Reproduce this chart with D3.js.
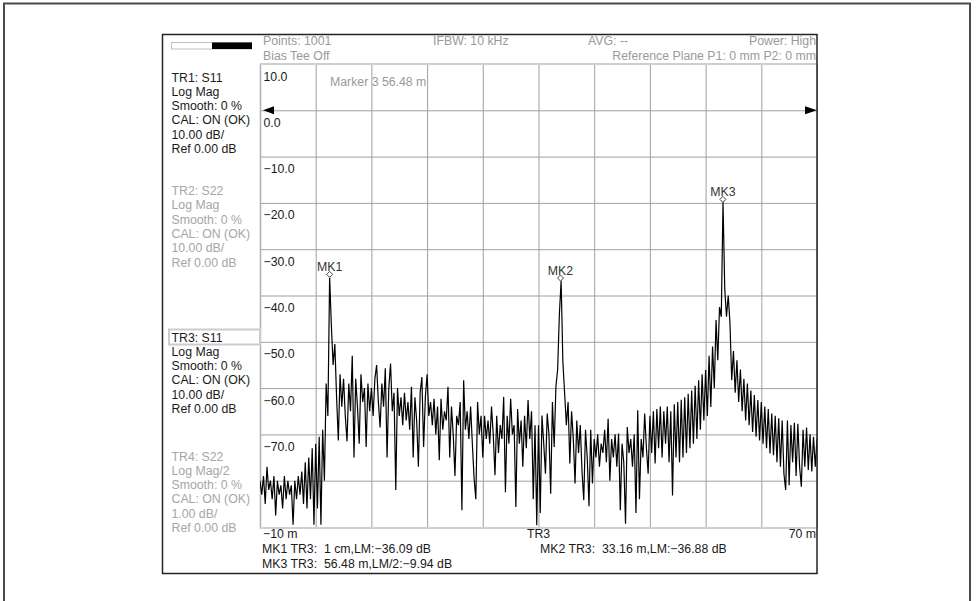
<!DOCTYPE html>
<html>
<head>
<meta charset="utf-8">
<script src="https://cdn.jsdelivr.net/npm/d3@7"></script>
<style>
  html, body { margin: 0; padding: 0; background: #fff; }
  svg { display: block; font-family: "Liberation Sans", Arial, sans-serif; font-size: 12.3px; }
  text { white-space: pre; }
</style>
</head>
<body>
<svg id="chart" width="979" height="601"></svg>
<script>
// sweep samples: -10 m .. 70 m, read every 0.25 m off the screen
const distStart = -10;
const distStep = 0.25;

// TR3 (S11 log mag, dB), one array per horizontal division of 8 m
const div1 = [-80, -83, -79, -85, -77, -82, -80, -84, -79, -87.5, -80, -83, -81, -86, -79, -84, -80, -83, -81, -89.5,
  -80, -84, -79, -83, -78, -85, -76, -86, -75, -84, -73, -89.5];
const div2 = [-72, -86, -70.5, -89.5, -69, -80, -59, -66, -36.09, -46.5, -55, -50.5, -62, -71.3, -57, -64, -58, -66, -71.5, -59,
  -65, -53, -75, -58, -64, -72, -57, -63, -60, -72.7, -59, -65];
const div3 = [-60, -66, -58, -55, -63, -68.5, -59, -64, -55.7, -75, -60, -54.7, -65, -61, -82, -60, -66, -62, -68, -61,
  -67, -63, -69, -59.7, -75, -62, -67, -77, -61, -57.6, -72.7, -62];
const div4 = [-57, -66, -63, -68, -62.3, -70, -64, -75.6, -62.3, -69, -65, -67, -59.7, -75, -64, -70, -79, -66, -68, -63,
  -86.4, -58.3, -69, -65, -71, -64, -72, -79.5, -84, -63, -70, -66];
const div5 = [-75, -66, -71, -67, -72, -64, -70, -78.8, -66, -74, -68, -71, -61.9, -82.5, -66, -72, -62.3, -70, -68, -85.7,
  -64.5, -72, -67, -77, -66, -73, -62.6, -71, -65, -84, -68, -89.6];
const div6 = [-68, -87, -65.9, -72, -78.5, -65.5, -70, -82.8, -63, -72.7, -59.7, -56, -44, -36.88, -54.3, -61, -68, -63, -76.3, -65,
  -71, -80.6, -67, -74, -68, -78, -84.2, -69, -75, -85.5, -69, -80.6];
const div7 = [-71, -75, -70, -77, -72, -74, -69, -76, -66.6, -80, -71, -75, -70, -77, -69.8, -86.4, -72, -76, -89.3, -68.4,
  -74, -71, -77, -70, -87, -64.8, -84, -71, -75, -65.5, -73, -78.5];
const div8 = [-66, -74, -65, -76.3, -64.5, -73, -64, -75, -65, -72, -64, -76, -65, -83.2, -63.5, -75, -63, -76, -62.5, -75,
  -62, -74, -61.2, -73, -60.5, -72, -59.5, -71, -58.3, -69, -57, -67];
const div9 = [-56.1, -66, -53, -64.1, -51, -60, -45.3, -54, -42.5, -44.6, -19.88, -38.5, -44.6, -40, -46, -58.3, -52, -61, -54, -63,
  -56, -65, -58, -67, -59, -68, -60.5, -69.5, -61.5, -70.5, -62.6, -71.3];
const div10 = [-63, -72, -64, -73, -64.5, -74.1, -65.5, -74.5, -66, -76, -66.5, -77, -67, -78.5, -82, -67, -81, -68, -76, -67.5,
  -79, -67.7, -77, -81.3, -69, -77, -68.5, -77.7, -70, -78, -70.5, -77, -71];

// grid and labels
const xGrid = [-10, -2, 6, 14, 22, 30, 38, 46, 54, 62, 70];
const yGrid = [10, 0, -10, -20, -30, -40, -50, -60, -70, -80, -90];
const yTickValues = [10, 0, -10, -20, -30, -40, -50, -60, -70];
const yTickLabels = ["10.0", "0.0", "\u221210.0", "\u221220.0", "\u221230.0", "\u221240.0", "\u221250.0", "\u221260.0", "\u221270.0"];

// markers (MK3 shown on LM/2, so screen value is twice the readout)
const markerNames = ["MK1", "MK2", "MK3"];
const markerDist = [0.01, 33.16, 56.48];
const markerDb = [-36.09, -36.88, -9.94 * 2];

const tr1Lines = ["TR1: S11", "Log Mag", "Smooth: 0 %", "CAL: ON (OK)", "10.00 dB/", "Ref 0.00 dB"];
const tr2Lines = ["TR2: S22", "Log Mag", "Smooth: 0 %", "CAL: ON (OK)", "10.00 dB/", "Ref 0.00 dB"];
const tr3Lines = ["TR3: S11", "Log Mag", "Smooth: 0 %", "CAL: ON (OK)", "10.00 dB/", "Ref 0.00 dB"];
const tr4Lines = ["TR4: S22", "Log Mag/2", "Smooth: 0 %", "CAL: ON (OK)", "1.00 dB/", "Ref 0.00 dB"];

const svg = d3.select("#chart");
const black = "#1a1a1a";
const grey = "#a6a6a6";

const plot = { left: 260, right: 817, top: 64, bottom: 527 };

const x = d3.scaleLinear().domain([-10, 70]).range([plot.left, plot.right]);
const y = d3.scaleLinear().domain([10, -90]).range([plot.top, plot.bottom]);

const trace = [].concat(div1, div2, div3, div4, div5, div6, div7, div8, div9, div10)
  .map((v, i) => ({ d: distStart + i * distStep, db: v }));

// outer page frame
svg.append("path")
  .attr("d", "M4,601 V3.5 H970 V601")
  .attr("fill", "none")
  .attr("stroke", "#4a4a4a")
  .attr("stroke-width", 2);

// grid
svg.append("g")
  .attr("transform", `translate(0,${plot.bottom})`)
  .call(d3.axisBottom(x).tickValues(xGrid).tickSize(-(plot.bottom - plot.top)).tickFormat(""))
  .call(g => g.select(".domain").remove())
  .call(g => g.selectAll(".tick line").attr("stroke", "#a0a0a0"));

svg.append("g")
  .attr("transform", `translate(${plot.left},0)`)
  .call(d3.axisLeft(y).tickValues(yGrid).tickSize(-(plot.right - plot.left)).tickFormat(""))
  .call(g => g.select(".domain").remove())
  .call(g => g.selectAll(".tick line").attr("stroke", "#a0a0a0"));

// plot edges
svg.append("line").attr("x1", plot.left + 0.5).attr("x2", plot.left + 0.5)
  .attr("y1", plot.top).attr("y2", plot.bottom + 2).attr("stroke", "#b0b0b0").attr("stroke-width", 1.5);
svg.append("line").attr("x1", plot.left).attr("x2", plot.right)
  .attr("y1", plot.top).attr("y2", plot.top).attr("stroke", "#cfcfcf").attr("stroke-width", 2);
svg.append("line").attr("x1", plot.left).attr("x2", plot.right)
  .attr("y1", plot.bottom + 1).attr("y2", plot.bottom + 1).attr("stroke", "#cfcfcf").attr("stroke-width", 2);

// y tick labels inside plot
svg.append("g").selectAll("text")
  .data(yTickValues)
  .join("text")
  .attr("x", plot.left + 3.5)
  .attr("y", d => y(d) + 16.5)
  .attr("fill", black)
  .text((d, i) => yTickLabels[i]);

// trace
svg.append("clipPath").attr("id", "clip")
  .append("rect").attr("x", plot.left).attr("y", plot.top)
  .attr("width", plot.right - plot.left).attr("height", plot.bottom - plot.top);

svg.append("path")
  .datum(trace)
  .attr("clip-path", "url(#clip)")
  .attr("fill", "none")
  .attr("stroke", "#000")
  .attr("stroke-width", 1.2)
  .attr("stroke-linejoin", "miter")
  .attr("d", d3.line().x(d => x(d.d)).y(d => y(d.db)));

// markers
const mk = svg.append("g").selectAll("g")
  .data(markerNames)
  .join("g")
  .attr("transform", (d, i) => `translate(${x(markerDist[i])},${y(markerDb[i])})`);
mk.append("path")
  .attr("d", "M0,0 L3,-3 L0,-6 L-3,-3 Z")
  .attr("fill", "#fff")
  .attr("stroke", "#444")
  .attr("stroke-width", 1);
mk.append("text")
  .attr("y", -6)
  .attr("text-anchor", "middle")
  .attr("fill", "#333")
  .text(d => d);

// reference level arrows on 0 dB
const y0 = y(0);
svg.append("path")
  .attr("d", `M${plot.left + 3},${y0} L${plot.left + 14},${y0 - 4} L${plot.left + 14},${y0 + 4} Z`)
  .attr("fill", "#000");
svg.append("path")
  .attr("d", `M${plot.right},${y0} L${plot.right - 12},${y0 - 4} L${plot.right - 12},${y0 + 4} Z`)
  .attr("fill", "#000");

// instrument frame
svg.append("rect")
  .attr("x", 162.5).attr("y", 34.5).attr("width", plot.right - 162.5).attr("height", 539)
  .attr("fill", "none").attr("stroke", "#222").attr("stroke-width", 1.5);

// top-left level bar
svg.append("rect").attr("x", 171.5).attr("y", 42.5).attr("width", 80).attr("height", 6.5)
  .attr("fill", "#fff").attr("stroke", "#c0c0c0");
svg.append("rect").attr("x", 212).attr("y", 42.5).attr("width", 40).attr("height", 6.5)
  .attr("fill", "#000");

// header texts
const header = svg.append("g").attr("fill", "#9a9a9a");
header.append("text").attr("x", 263).attr("y", 45).text("Points: 1001");
header.append("text").attr("x", 433).attr("y", 45).text("IFBW: 10 kHz");
header.append("text").attr("x", 588).attr("y", 45).text("AVG: --");
header.append("text").attr("x", 816).attr("y", 45).attr("text-anchor", "end").text("Power: High");
header.append("text").attr("x", 263).attr("y", 60).text("Bias Tee Off");
header.append("text").attr("x", 816).attr("y", 60).attr("text-anchor", "end").text("Reference Plane P1: 0 mm P2: 0 mm");
header.append("text").attr("x", 330).attr("y", 86).text("Marker 3 56.48 m");

// trace info blocks on the left
const blocks = [
  { lines: tr1Lines, top: 81.5, color: black },
  { lines: tr2Lines, top: 195, color: grey },
  { lines: tr3Lines, top: 341.5, color: black },
  { lines: tr4Lines, top: 460.5, color: grey }
];

svg.append("rect").attr("x", 169).attr("y", 329.5).attr("width", 91).attr("height", 15)
  .attr("fill", "none").attr("stroke", "#cccccc").attr("stroke-width", 2);

blocks.forEach(b => {
  svg.append("g").selectAll("text")
    .data(b.lines)
    .join("text")
    .attr("x", 171.5)
    .attr("y", (d, i) => b.top + i * 14.3)
    .attr("fill", b.color)
    .text(d => d);
});

// x labels and marker readouts
const foot = svg.append("g").attr("fill", black);
foot.append("text").attr("x", 263).attr("y", 537.5).text("\u221210 m");
foot.append("text").attr("x", x(30)).attr("y", 537.5).attr("text-anchor", "middle").text("TR3");
foot.append("text").attr("x", 816).attr("y", 537.5).attr("text-anchor", "end").text("70 m");
foot.append("text").attr("x", 262).attr("y", 553).text("MK1 TR3:  1 cm,LM:\u221236.09 dB");
foot.append("text").attr("x", 540).attr("y", 553).text("MK2 TR3:  33.16 m,LM:\u221236.88 dB");
foot.append("text").attr("x", 262).attr("y", 568).text("MK3 TR3:  56.48 m,LM/2:\u22129.94 dB");
</script>
</body>
</html>
